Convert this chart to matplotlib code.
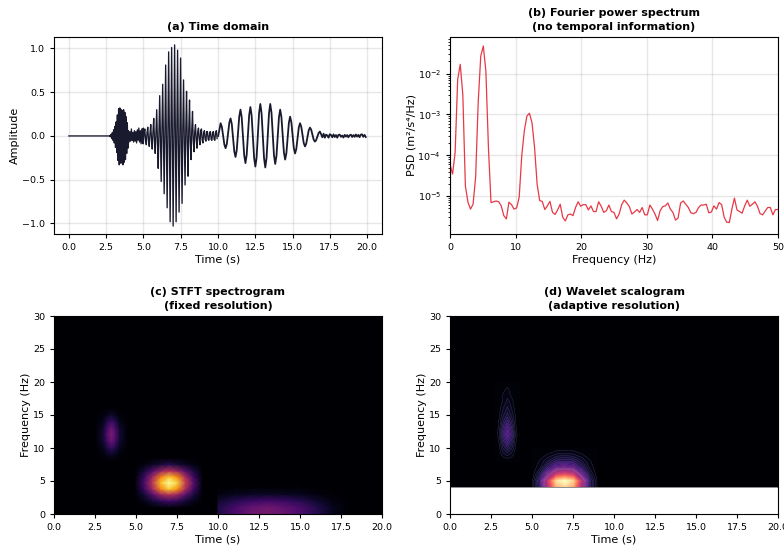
import numpy as np
import matplotlib
matplotlib.use('Agg')
import matplotlib.pyplot as plt

# (a) time trace in pieces
quiet_t = [0.0, 2.75]
quiet_amp = [0.0, 0.0]
burst_amp = [.005, -.01, .02, -.03, .04, -.05, .07, -.08, .11, -.13, .16, -.19, .24, -.28, .31,
             -.33, .32, -.31, .30, -.31, .29, -.33, .30, -.30, .27, -.27, .22, -.20, .15, -.14]
noise_amp = [.06, -.07, .05, -.06, .08, -.05, .04, -.07, .06, -.06, .05, -.08, .07, -.05, .09,
             -.07, .06, -.09, .08, -.08, .09]
main_amp = [-.09, .03, .08, -.04, -.10, .04, .10, -.05, -.12, .03, .13, -.04, -.15, .05, .20, -.05,
            -.20, .06, .30, -.07, -.37, .07, .46, -.06, -.52, .08, .59, -.07, -.66, .09, .81, -.08,
            -.82, .10, .96, -.07, -.98, .07, 1.01, -.06, -1.03, .05, 1.04, -.05, -.98, .08, .98, -.07,
            -.87, .07, .89, -.08, -.77, .09, .64, -.06, -.56, .07, .51, -.07, -.46, .08, .41, -.06,
            -.27, .07, .28, -.05, -.18, .05, .13, -.05, -.14, .05, .09, -.04, -.10, .06, .08, -.05,
            -.08, .04, .06, -.04, -.06, .05, .05, -.04, -.05, .04, .05, -.04, -.05, .04, .05, -.04,
            -.05, .04, .06, -.03]
tail_amp = [0.0, .07, .145, .103, .003, -.098, -.14, -.09, .03, .15, .20, .136, -.02, -.176, -.24,
            -.161, .03, .221, .30, .211, -.005, -.221, -.31, -.217, .01, .237, .33, .231, -.01, -.251,
            -.35, -.246, .008, .261, .365, .259, .003, -.254, -.36, -.254, .003, .259, .365, .265, .023,
            -.22, -.32, -.23, -.01, .21, .30, .217, .015, -.187, -.27, -.198, -.025, .148, .22, .159,
            .01, -.139, -.20, -.15, -.028, .095, .145, .106, .013, -.081, -.12, -.089, -.013, .064, .095,
            .072, .015, -.042, -.065, -.048, -.008, .033, .05, .02, -.015, .025, -.02, .015, .005, -.02,
            .02, .01, -.015, .018, -.012, .01, -.02, .012, .015, -.01, .005, -.018, .012, -.008, .01, -.015,
            .008, .014, -.012, .01, -.01, .016, -.008, .012, -.014, .015, .018, -.01, .012, -.012]

# (b) spectrum, log10 of PSD at each bin
psd_log = [-4.22, -4.46, -3.93, -2.14, -1.77, -2.51, -4.75, -5.15, -5.32, -5.20, -4.54, -2.71, -1.57, -1.32,
           -1.94, -3.81, -5.16, -5.14, -5.12, -5.14, -5.24, -5.48, -5.56, -5.15, -5.21, -5.32, -5.29, -5.03,
           -4.01, -3.40, -3.04, -2.97, -3.20, -3.81, -4.71, -5.11, -5.13, -5.33, -5.24, -5.13, -5.40, -5.45,
           -5.34, -5.20, -5.52, -5.61, -5.46, -5.44, -5.48, -5.28, -5.14, -5.25, -5.21, -5.21, -5.34, -5.24,
           -5.38, -5.38, -5.14, -5.25, -5.40, -5.36, -5.22, -5.38, -5.40, -5.56, -5.44, -5.21, -5.10, -5.17,
           -5.26, -5.44, -5.39, -5.33, -5.40, -5.28, -5.46, -5.46, -5.22, -5.32, -5.44, -5.60, -5.36, -5.26,
           -5.24, -5.17, -5.32, -5.40, -5.59, -5.54, -5.17, -5.12, -5.20, -5.28, -5.41, -5.43, -5.40, -5.28,
           -5.22, -5.22, -5.20, -5.41, -5.39, -5.24, -5.32, -5.16, -5.21, -5.52, -5.64, -5.65, -5.32, -5.05,
           -5.34, -5.38, -5.42, -5.24, -5.10, -5.25, -5.20, -5.14, -5.25, -5.43, -5.46, -5.37, -5.28, -5.28,
           -5.46, -5.33, -5.33]

# (c) STFT patches
stft_burst_t = [2.5, 3, 3.25, 3.5, 3.75, 4, 4.5]
stft_burst_f = [8, 9, 10, 11, 12, 13, 14, 15, 16]
stft_burst = [[0, 0, 0, 0, 0, 0, 0],
              [0, .02, .05, .07, .05, .02, 0],
              [0, .05, .12, .17, .12, .05, 0],
              [0, .08, .20, .29, .20, .08, 0],
              [0, .09, .24, .34, .24, .09, 0],
              [0, .08, .21, .30, .21, .08, 0],
              [0, .05, .13, .19, .13, .05, 0],
              [0, .02, .05, .08, .05, .02, 0],
              [0, 0, 0, 0, 0, 0, 0]]
stft_main_t = [5, 5.5, 6, 6.5, 7, 7.5, 8, 8.5, 9]
stft_main_f = [1, 2, 3, 3.8, 4.7, 5.6, 6.5, 7.5, 8.5]
stft_main = [[0, 0, .01, .02, .03, .02, .01, 0, 0],
             [.01, .04, .10, .16, .20, .17, .10, .05, .01],
             [.02, .10, .25, .42, .50, .44, .27, .12, .02],
             [.03, .18, .42, .72, .88, .76, .46, .20, .03],
             [.04, .22, .50, .85, 1, .90, .55, .25, .04],
             [.03, .18, .42, .72, .88, .76, .46, .20, .03],
             [.02, .10, .24, .40, .50, .42, .26, .11, .02],
             [.005, .03, .06, .10, .14, .10, .06, .03, .005],
             [0, 0, 0, 0, 0, 0, 0, 0, 0]]
stft_tail_t = [10, 11, 12, 13, 14, 15, 16, 17, 18]
stft_tail_f = [0, 1, 2, 3, 4, 5]
stft_tail = [[.12, .22, .30, .32, .29, .23, .14, .05, 0],
             [.12, .21, .28, .31, .27, .22, .13, .05, 0],
             [.08, .13, .18, .20, .18, .14, .08, .03, 0],
             [.03, .05, .06, .07, .06, .05, .03, .01, 0],
             [0, .01, .01, .01, .01, .01, 0, 0, 0],
             [0, 0, 0, 0, 0, 0, 0, 0, 0]]

# (d) wavelet patches
cwt_floor_f = [4.1, 30]
cwt_burst_t = [2.75, 3, 3.25, 3.5, 3.75, 4, 4.25]
cwt_burst_f = [8, 9, 10, 11, 12, 13, 14, 15, 16, 17, 18, 19, 20]
cwt_burst = [[0, 0, 0, 0, 0, 0, 0],
             [0, .01, .04, .06, .04, .01, 0],
             [0, .02, .08, .12, .08, .02, 0],
             [0, .03, .12, .19, .12, .03, 0],
             [0, .04, .15, .24, .15, .04, 0],
             [0, .035, .13, .22, .13, .03, 0],
             [0, .03, .10, .16, .10, .025, 0],
             [0, .02, .07, .11, .07, .02, 0],
             [0, .015, .05, .08, .05, .01, 0],
             [0, .01, .03, .06, .04, .005, 0],
             [0, .003, .03, .04, .02, 0, 0],
             [0, 0, .015, .03, .01, 0, 0],
             [0, 0, 0, .005, 0, 0, 0]]
cwt_main_t = [5, 5.5, 6, 6.5, 7, 7.5, 8, 8.5, 9]
cwt_main_f = [4.1, 5, 6, 7, 8, 9, 10]
cwt_main = [[.015, .16, .50, .83, .90, .81, .45, .14, .015],
            [.015, .18, .55, .92, 1, .90, .50, .15, .015],
            [.005, .11, .33, .55, .60, .54, .30, .09, .005],
            [0, .05, .17, .28, .30, .27, .15, .05, 0],
            [0, .03, .08, .14, .15, .14, .08, .03, 0],
            [0, .01, .03, .055, .06, .055, .03, .01, 0],
            [0, 0, 0, .002, .005, .002, 0, 0, 0]]

time_ticks = [0, 2.5, 5, 7.5, 10, 12.5, 15, 17.5, 20]
time_labels = ['0.0', '2.5', '5.0', '7.5', '10.0', '12.5', '15.0', '17.5', '20.0']
W, H = 784, 547


def add_panel(left, top, right, bottom):
    # pixel box to figure fractions
    ax = fig.add_axes([left / W, 1 - bottom / H, (right - left) / W, (bottom - top) / H])
    ax.tick_params(labelsize=6.8, length=3, width=0.8)
    return ax


def set_titles(ax, title):
    ax.set_title(title, fontsize=8, fontweight='bold', pad=5, linespacing=1.45)


fig = plt.figure(figsize=(W / 100, H / 100), dpi=100)

# Time domain
ax = add_panel(54, 37, 382, 234)
body_t = np.concatenate([quiet_t,
                         2.75 + 0.0417 * np.arange(len(burst_amp)),
                         3.99 + 0.05 * np.arange(len(noise_amp)),
                         4.99 + 0.05 * np.arange(len(main_amp))])
ax.plot(body_t, quiet_amp + burst_amp + noise_amp + main_amp, color='#1a1a2e', lw=0.95)
ax.plot(10.01 + 0.0832 * np.arange(len(tail_amp)), tail_amp, color='#1a1a2e', lw=1.3)
ax.set_xlim(-1, 21)
ax.set_ylim(-1.12, 1.13)
ax.set_xticks(time_ticks)
ax.set_xticklabels(time_labels)
ax.set_yticks([-1, -0.5, 0, 0.5, 1])
ax.set_xlabel('Time (s)', fontsize=8, labelpad=2)
ax.set_ylabel('Amplitude', fontsize=8, labelpad=1.5)
set_titles(ax, '(a) Time domain')
ax.grid(True, alpha=0.3, lw=1)

# Spectrum
ax = add_panel(450, 37, 778, 234)
ax.semilogy(np.linspace(0, 50, len(psd_log)), 10.0 ** np.array(psd_log), color='#e63946', lw=0.9)
ax.set_xlim(0, 50)
ax.set_ylim(10 ** -5.93, 10 ** -1.10)
ax.tick_params(which='minor', length=1.5, width=0.6)
ax.set_xlabel('Frequency (Hz)', fontsize=8, labelpad=2)
ax.set_ylabel('PSD (m²/s⁴/Hz)', fontsize=8, labelpad=1)
set_titles(ax, '(b) Fourier power spectrum\n(no temporal information)')
ax.grid(True, alpha=0.3, lw=1)

# STFT
ax = add_panel(54, 316, 382, 514)
ax.set_facecolor(plt.get_cmap('inferno')(0.0))
for t, f, z in [(stft_burst_t, stft_burst_f, stft_burst),
                (stft_main_t, stft_main_f, stft_main),
                (stft_tail_t, stft_tail_f, stft_tail)]:
    ax.pcolormesh(t, f, np.array(z), shading='gouraud', cmap='inferno', vmin=0, vmax=1)
ax.set_xlim(0, 20)
ax.set_ylim(0, 30)
ax.set_xticks(time_ticks)
ax.set_xticklabels(time_labels)
ax.set_xlabel('Time (s)', fontsize=8, labelpad=2)
ax.set_ylabel('Frequency (Hz)', fontsize=8, labelpad=1)
set_titles(ax, '(c) STFT spectrogram\n(fixed resolution)')

# Wavelet
ax = add_panel(450, 316, 778, 514)
ax.pcolormesh([0, 20], cwt_floor_f, np.zeros((2, 2)), shading='gouraud', cmap='magma', vmin=0, vmax=1)
levels = np.linspace(0, 1, 41)
for t, f, z in [(cwt_burst_t, cwt_burst_f, cwt_burst), (cwt_main_t, cwt_main_f, cwt_main)]:
    ax.contourf(t, f, np.array(z), levels=levels, cmap='magma', vmin=0, vmax=1)
    ax.contour(t, f, np.array(z), levels=levels[1:16], colors='white', linewidths=0.3, alpha=0.18)
ax.set_xlim(0, 20)
ax.set_ylim(0, 30)
ax.set_xticks(time_ticks)
ax.set_xticklabels(time_labels)
ax.set_xlabel('Time (s)', fontsize=8, labelpad=2)
ax.set_ylabel('Frequency (Hz)', fontsize=8, labelpad=1)
set_titles(ax, '(d) Wavelet scalogram\n(adaptive resolution)')

fig.savefig('out.png', dpi=100)
